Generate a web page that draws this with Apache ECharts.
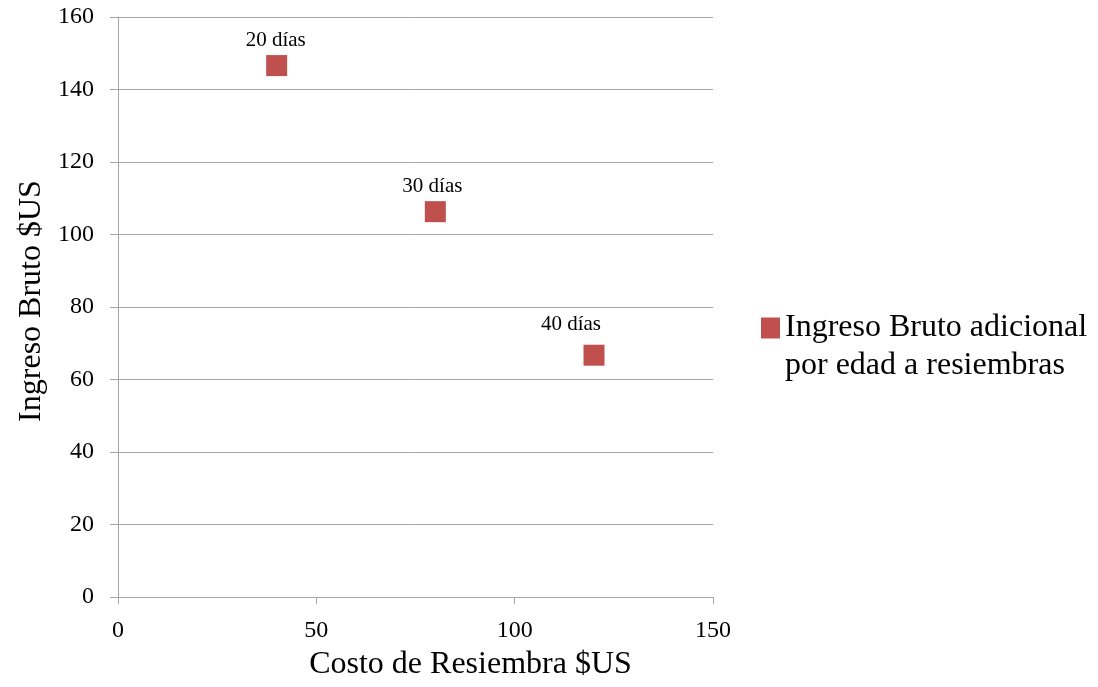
<!DOCTYPE html>
<html>
<head>
<meta charset="utf-8">
<script src="https://cdn.jsdelivr.net/npm/echarts@6/dist/echarts.min.js"></script>
<style>
  html, body { margin: 0; padding: 0; background: #fff; }
  #chart { width: 1098px; height: 687px; }
</style>
</head>
<body>
<div id="chart"></div>
<script>
// Costo de resiembra vs. ingreso bruto adicional, por edad de la resiembra
const seriesName = 'Ingreso Bruto adicional por edad a resiembras';
const ageLabels = ['20 días', '30 días', '40 días'];
const costValues = [40, 80, 120];
const incomeValues = [146.6, 106.3, 66.7];

const FONT = '"Liberation Serif", "Times New Roman", serif';
const GRID_COLOR = '#a6a6a6';
const MARK_COLOR = '#C0504D';

// small per-point nudges for the age labels
const labelOffsets = [[-1, 2], [-3, 2], [-23, -4]];

const points = costValues.map((x, i) => ({
  value: [x, incomeValues[i]],
  label: { formatter: ageLabels[i], offset: labelOffsets[i] }
}));

// legend square sitting at the top of a tall icon box,
// so it lines up with the first line of the two-line legend text
const LEGEND_ICON = 'path://M0,0 H19 V21 H0 Z M0,59 L0.001,59';

const chart = echarts.init(document.getElementById('chart'));
chart.setOption({
  animation: false,
  backgroundColor: '#fff',
  grid: { left: 118, right: 385, top: 17, bottom: 90, containLabel: false },
  xAxis: {
    type: 'value', min: 0, max: 150, interval: 50,
    name: 'Costo de Resiembra $US',
    nameLocation: 'middle', nameGap: 52,
    nameTextStyle: { fontFamily: FONT, fontSize: 32, color: '#000', padding: [0, 0, 0, 110] },
    axisLine: { show: true, lineStyle: { color: GRID_COLOR, width: 1 } },
    axisTick: { show: true, length: 7, lineStyle: { color: GRID_COLOR } },
    axisLabel: { fontFamily: FONT, fontSize: 24, color: '#000', margin: 22 },
    splitLine: { show: false }
  },
  yAxis: {
    type: 'value', min: 0, max: 160, interval: 20,
    name: 'Ingreso Bruto $US',
    nameLocation: 'middle', nameGap: 70, nameRotate: 90,
    nameTextStyle: { fontFamily: FONT, fontSize: 32, color: '#000', padding: [0, 0, 0, 12] },
    axisLine: { show: true, lineStyle: { color: GRID_COLOR, width: 1 } },
    axisTick: { show: true, length: 8, lineStyle: { color: GRID_COLOR } },
    axisLabel: { fontFamily: FONT, fontSize: 24, color: '#000', margin: 24 },
    splitLine: { show: true, lineStyle: { color: GRID_COLOR, width: 1 } }
  },
  legend: {
    left: 756, top: 304,
    orient: 'vertical',
    icon: LEGEND_ICON, itemWidth: 19, itemHeight: 59, itemGap: 0,
    formatter: () => 'Ingreso Bruto adicional\npor edad a resiembras',
    textStyle: { fontFamily: FONT, fontSize: 32, color: '#000', lineHeight: 38 },
    data: [seriesName]
  },
  series: [{
    name: seriesName,
    type: 'scatter',
    symbol: 'rect',
    symbolSize: 21,
    itemStyle: { color: MARK_COLOR, opacity: 1 },
    label: {
      show: true, position: 'top', distance: 6,
      fontFamily: FONT, fontSize: 21, color: '#000'
    },
    data: points
  }]
});
</script>
</body>
</html>
